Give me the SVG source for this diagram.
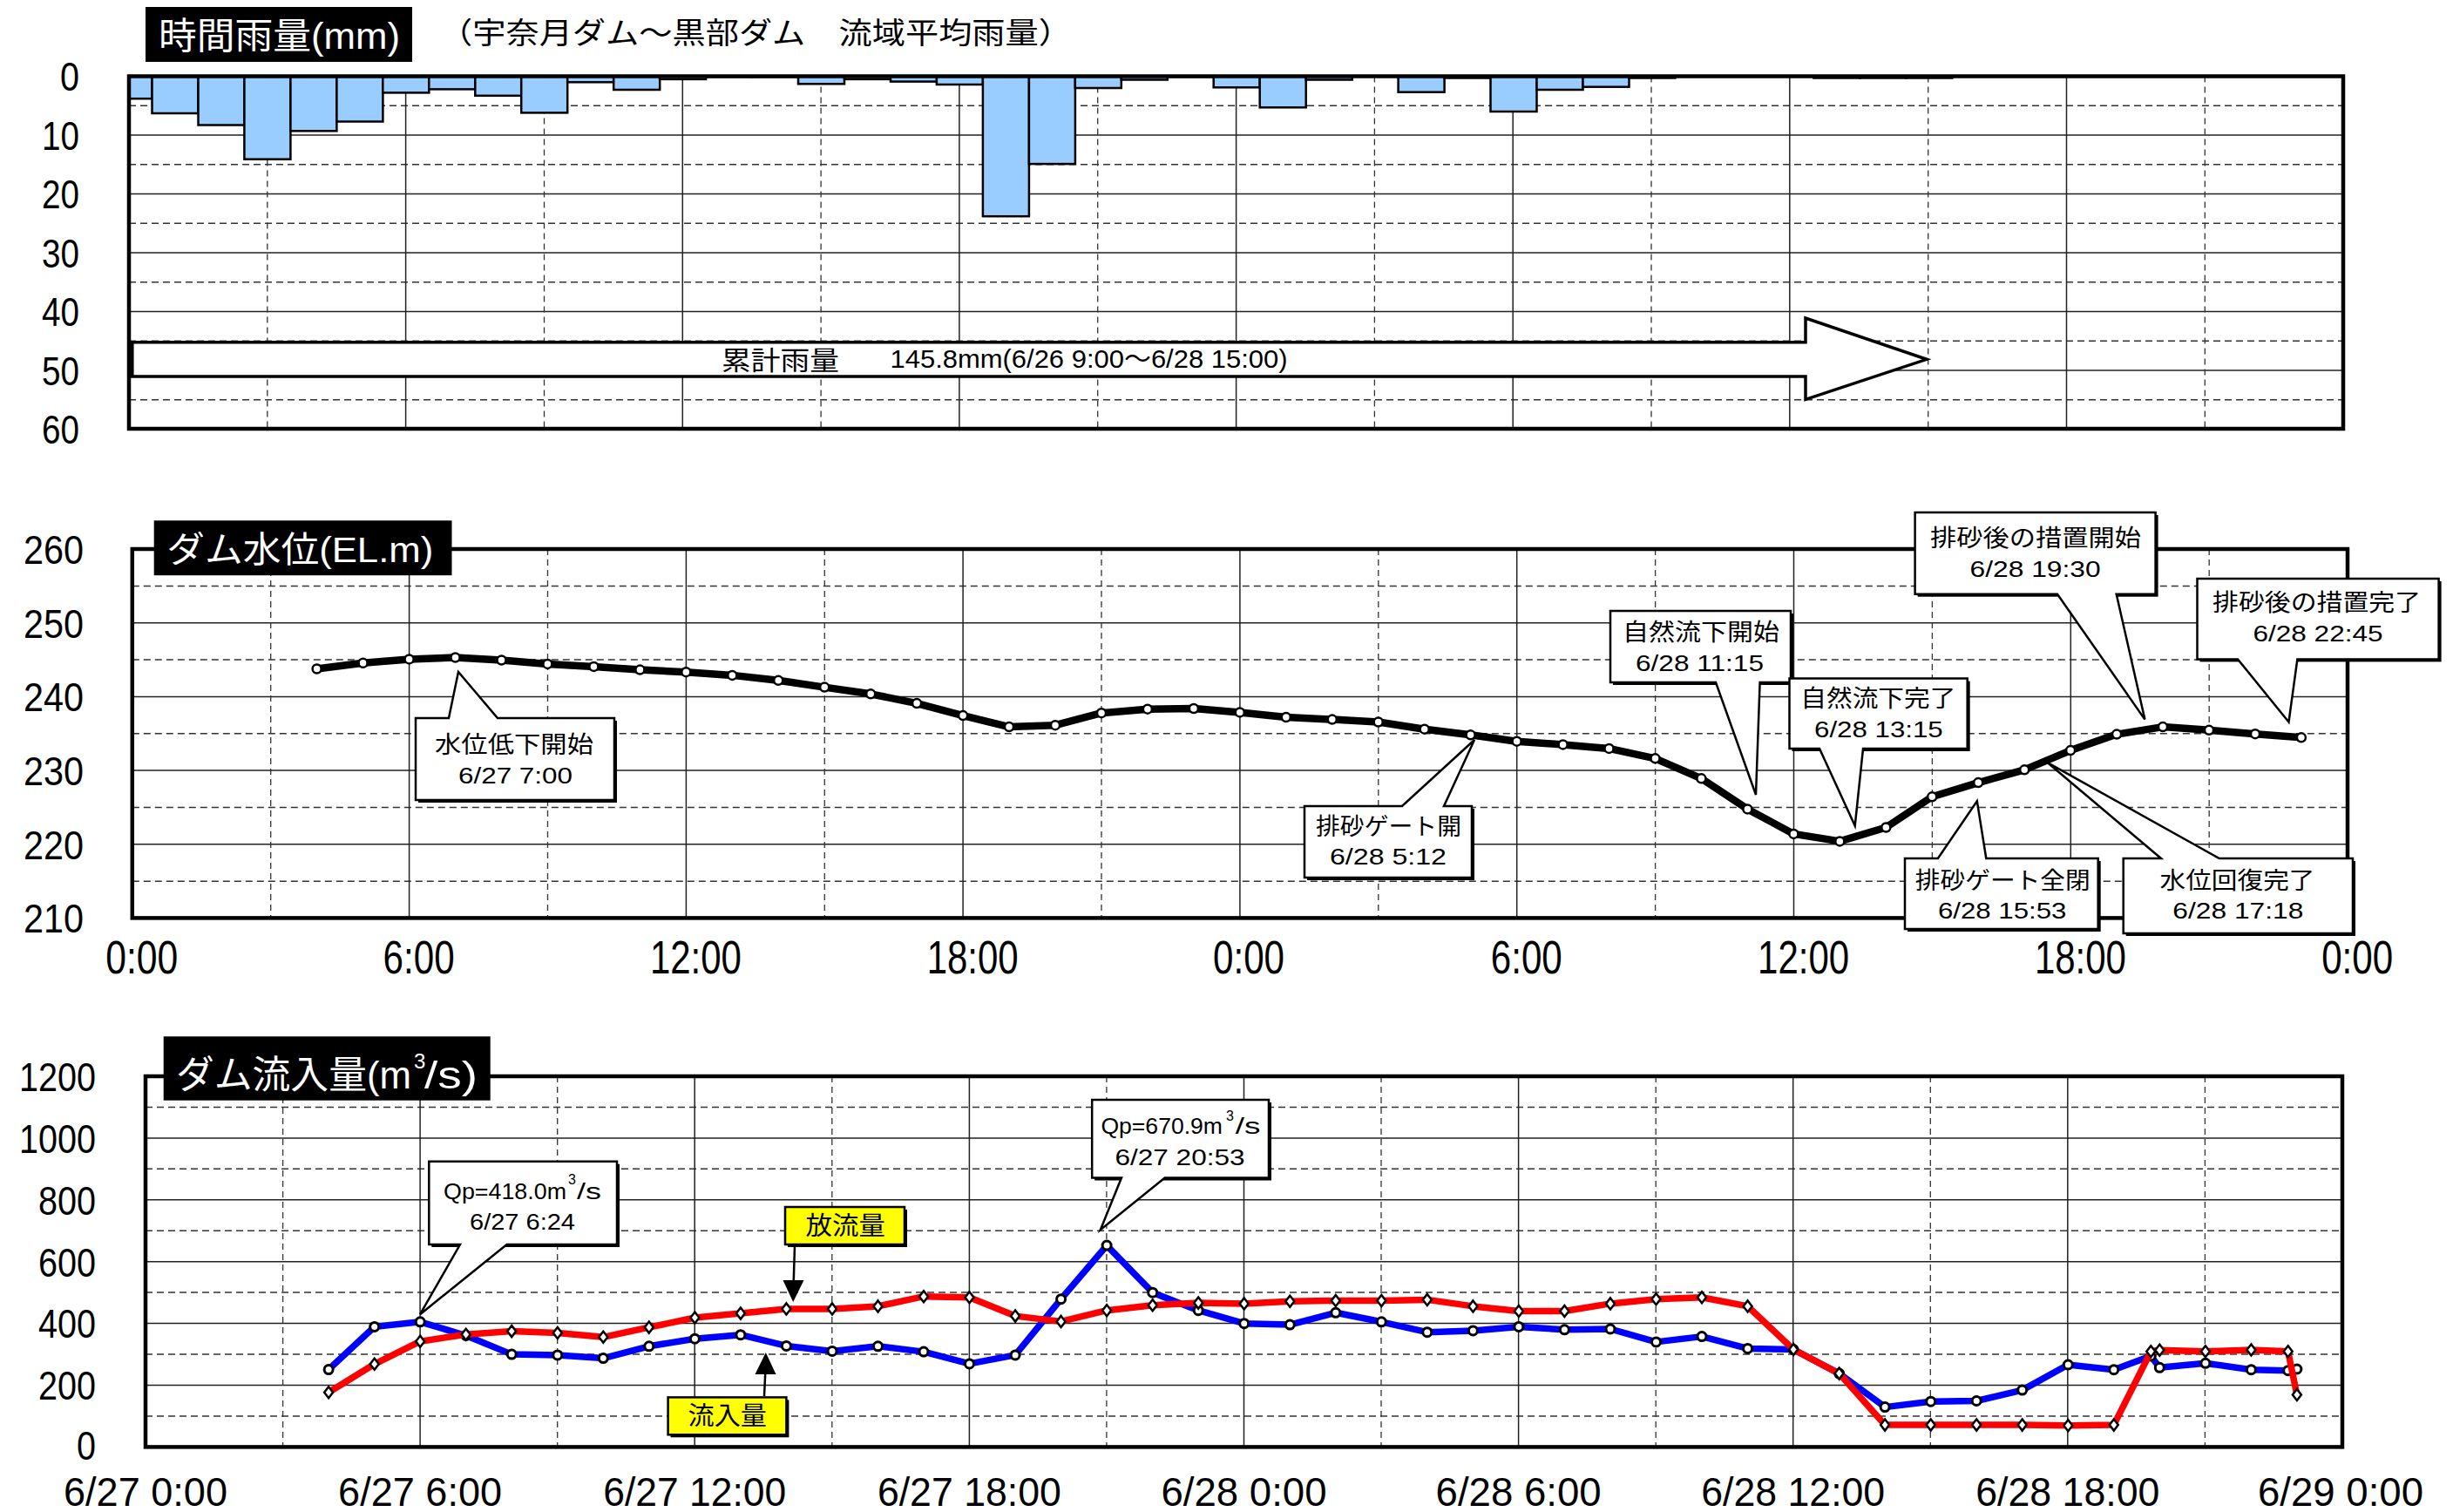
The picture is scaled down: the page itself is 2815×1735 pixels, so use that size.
<svg xmlns="http://www.w3.org/2000/svg" width="2815" height="1735" viewBox="0 0 2815 1735">
<style>
text{font-family:"Liberation Sans","Noto Sans CJK JP",sans-serif;fill:#000}
.num{font-size:47px}
.ax{font-size:54px;text-anchor:middle}
.ax3{font-size:47px;text-anchor:middle}
.wt{fill:#fff}
.c1{font-size:27px;text-anchor:middle}
.c2{font-size:26px;text-anchor:middle}
.gs{stroke:#222;stroke-width:1.5;fill:none}
.gd{stroke:#333;stroke-width:1.5;stroke-dasharray:8 5;fill:none}
.gv{stroke:#333;stroke-width:1.3;stroke-dasharray:7 5;fill:none}
.frame{fill:none;stroke:#000;stroke-width:4.5}
.bar{fill:#99CCFF;stroke:#000;stroke-width:2.5}
.call{fill:#fff;stroke:#000;stroke-width:2.5;stroke-linejoin:miter}
.shadow{fill:#000}
.tbox{fill:#000}
.ybox{fill:#FFFF00;stroke:#000;stroke-width:2.5}
.conn{stroke:#000;stroke-width:2.5;fill:none}
.head{fill:#000}
</style>
<defs>
<marker id="mk" markerUnits="userSpaceOnUse" markerWidth="20" markerHeight="20" refX="10" refY="10" overflow="visible"><circle cx="10" cy="10" r="5" fill="#fff" stroke="#000" stroke-width="2.5"/></marker>
<marker id="mb" markerUnits="userSpaceOnUse" markerWidth="20" markerHeight="20" refX="10" refY="10" overflow="visible"><circle cx="10" cy="10" r="5" fill="#fff" stroke="#000" stroke-width="3"/></marker>
<marker id="mr" markerUnits="userSpaceOnUse" markerWidth="20" markerHeight="20" refX="10" refY="10" overflow="visible"><path d="M10,3.5 L15,10 L10,16.5 L5,10 Z" fill="#fff" stroke="#000" stroke-width="2.5"/></marker>
</defs>
<rect width="2815" height="1735" fill="#fff"/>

<!-- ================= Panel 1: rainfall ================= -->
<g id="rain-panel">
<g id="rain-grid">
<path class="gs" d="M148,155H2689M148,222.5H2689M148,290H2689M148,357.5H2689M148,425H2689"/>
<path class="gd" d="M148,121.3H2689M148,188.8H2689M148,256.3H2689M148,323.8H2689M148,391.3H2689M148,458.8H2689"/>
<path class="gs" d="M465.6,87.5V492M783.3,87.5V492M1100.9,87.5V492M1418.6,87.5V492M1736.2,87.5V492M2053.8,87.5V492M2371.5,87.5V492"/>
<path class="gv" d="M306.8,87.5V492M624.5,87.5V492M942.1,87.5V492M1259.7,87.5V492M1577.4,87.5V492M1895,87.5V492M2212.7,87.5V492M2530.3,87.5V492"/>
</g>
<g id="rain-bars">
<rect class="bar" x="148" y="87.5" width="26.5" height="25.7"/>
<rect class="bar" x="174.5" y="87.5" width="53" height="42.5"/>
<rect class="bar" x="227.5" y="87.5" width="53" height="56"/>
<rect class="bar" x="280.4" y="87.5" width="53" height="95.2"/>
<rect class="bar" x="333.4" y="87.5" width="53" height="62.8"/>
<rect class="bar" x="386.4" y="87.5" width="53" height="52"/>
<rect class="bar" x="439.3" y="87.5" width="53" height="18.9"/>
<rect class="bar" x="492.3" y="87.5" width="53" height="14.9"/>
<rect class="bar" x="545.3" y="87.5" width="53" height="22.3"/>
<rect class="bar" x="598.2" y="87.5" width="53" height="41.9"/>
<rect class="bar" x="651.2" y="87.5" width="53" height="6.8"/>
<rect class="bar" x="704.2" y="87.5" width="53" height="15.5"/>
<rect class="bar" x="757.1" y="87.5" width="53" height="3.4"/>
<rect class="bar" x="810.1" y="87.5" width="53" height="0.7"/>
<rect class="bar" x="863.1" y="87.5" width="53" height="0.7"/>
<rect class="bar" x="916" y="87.5" width="53" height="8.8"/>
<rect class="bar" x="969" y="87.5" width="53" height="3.4"/>
<rect class="bar" x="1022" y="87.5" width="53" height="6.1"/>
<rect class="bar" x="1074.9" y="87.5" width="53" height="9.5"/>
<rect class="bar" x="1127.9" y="87.5" width="53" height="160.7"/>
<rect class="bar" x="1180.9" y="87.5" width="53" height="100.6"/>
<rect class="bar" x="1233.8" y="87.5" width="53" height="13.5"/>
<rect class="bar" x="1286.8" y="87.5" width="53" height="4"/>
<rect class="bar" x="1339.8" y="87.5" width="53" height="0.7"/>
<rect class="bar" x="1392.7" y="87.5" width="53" height="12.8"/>
<rect class="bar" x="1445.7" y="87.5" width="53" height="35.8"/>
<rect class="bar" x="1498.7" y="87.5" width="53" height="4"/>
<rect class="bar" x="1604.6" y="87.5" width="53" height="18.2"/>
<rect class="bar" x="1657.6" y="87.5" width="53" height="2"/>
<rect class="bar" x="1710.5" y="87.5" width="53" height="40.5"/>
<rect class="bar" x="1763.5" y="87.5" width="53" height="15.5"/>
<rect class="bar" x="1816.5" y="87.5" width="53" height="12.2"/>
<rect class="bar" x="1869.4" y="87.5" width="53" height="2"/>
<rect class="bar" x="2081.4" y="87.5" width="53" height="2"/>
<rect class="bar" x="2134.4" y="87.5" width="53" height="2"/>
<rect class="bar" x="2187.3" y="87.5" width="53" height="2"/>
</g>
<rect class="frame" x="148" y="87.5" width="2541" height="404.5"/>
<g id="rain-yaxis" text-anchor="end">
<text class="num" x="91" y="104" textLength="22" lengthAdjust="spacingAndGlyphs">0</text>
<text class="num" x="91" y="171.5" textLength="43" lengthAdjust="spacingAndGlyphs">10</text>
<text class="num" x="91" y="239" textLength="43" lengthAdjust="spacingAndGlyphs">20</text>
<text class="num" x="91" y="306.5" textLength="43" lengthAdjust="spacingAndGlyphs">30</text>
<text class="num" x="91" y="374" textLength="43" lengthAdjust="spacingAndGlyphs">40</text>
<text class="num" x="91" y="441.5" textLength="43" lengthAdjust="spacingAndGlyphs">50</text>
<text class="num" x="91" y="509" textLength="43" lengthAdjust="spacingAndGlyphs">60</text>
</g>
<g id="rain-total">
<polygon points="151.8,392.7 2072,392.7 2072,365 2211,412.3 2072,458.3 2072,432 151.8,432" fill="#fff" stroke="#000" stroke-width="3.5"/>
<text x="828" y="423.5" font-size="30" textLength="135" lengthAdjust="spacingAndGlyphs">累計雨量</text>
<text x="1021.5" y="421.7" font-size="30" textLength="456" lengthAdjust="spacingAndGlyphs">145.8mm(6/26 9:00～6/28 15:00)</text>
</g>
</g>
<g id="rain-title">
<rect class="tbox" x="167" y="8" width="306" height="63"/>
<text class="wt" x="182" y="56" font-size="42" textLength="277" lengthAdjust="spacingAndGlyphs">時間雨量(mm)</text>
</g>
<g id="rain-subtitle">
<text x="504" y="49.7" font-size="34" textLength="726" lengthAdjust="spacingAndGlyphs">（宇奈月ダム～黒部ダム　流域平均雨量）</text>
</g>

<!-- ================= Panel 2: water level ================= -->
<g id="level-panel">
<g id="level-grid">
<path class="gs" d="M151.8,714.7H2694M151.8,799.4H2694M151.8,884.1H2694M151.8,968.8H2694"/>
<path class="gd" d="M151.8,672.4H2694M151.8,757.1H2694M151.8,841.8H2694M151.8,926.5H2694M151.8,1011.2H2694"/>
<path class="gs" d="M469.6,630V1053.4M787.4,630V1053.4M1105.1,630V1053.4M1422.9,630V1053.4M1740.7,630V1053.4M2058.5,630V1053.4M2376.3,630V1053.4"/>
<path class="gv" d="M310.7,630V1053.4M628.5,630V1053.4M946.3,630V1053.4M1264,630V1053.4M1581.8,630V1053.4M1899.6,630V1053.4M2217.4,630V1053.4M2535.2,630V1053.4"/>
</g>
<rect class="frame" x="151.8" y="630" width="2542.2" height="423.4"/>
<g id="level-yaxis" text-anchor="end">
<text class="num" x="96" y="647" textLength="69" lengthAdjust="spacingAndGlyphs">260</text>
<text class="num" x="96" y="731.6" textLength="69" lengthAdjust="spacingAndGlyphs">250</text>
<text class="num" x="96" y="816.3" textLength="69" lengthAdjust="spacingAndGlyphs">240</text>
<text class="num" x="96" y="901" textLength="69" lengthAdjust="spacingAndGlyphs">230</text>
<text class="num" x="96" y="985.7" textLength="69" lengthAdjust="spacingAndGlyphs">220</text>
<text class="num" x="96" y="1070.4" textLength="69" lengthAdjust="spacingAndGlyphs">210</text>
</g>
<g id="level-xaxis">
<text class="ax" x="162.8" y="1117" textLength="83" lengthAdjust="spacingAndGlyphs">0:00</text>
<text class="ax" x="480.6" y="1117" textLength="82" lengthAdjust="spacingAndGlyphs">6:00</text>
<text class="ax" x="798.4" y="1117" textLength="105" lengthAdjust="spacingAndGlyphs">12:00</text>
<text class="ax" x="1116.2" y="1117" textLength="105" lengthAdjust="spacingAndGlyphs">18:00</text>
<text class="ax" x="1433" y="1117" textLength="82" lengthAdjust="spacingAndGlyphs">0:00</text>
<text class="ax" x="1751.8" y="1117" textLength="82" lengthAdjust="spacingAndGlyphs">6:00</text>
<text class="ax" x="2069.6" y="1117" textLength="105" lengthAdjust="spacingAndGlyphs">12:00</text>
<text class="ax" x="2387.4" y="1117" textLength="105" lengthAdjust="spacingAndGlyphs">18:00</text>
<text class="ax" x="2705.2" y="1117" textLength="82" lengthAdjust="spacingAndGlyphs">0:00</text>
</g>
<polyline id="level-line" fill="none" stroke="#000" stroke-width="8.5" stroke-linejoin="round" marker-start="url(#mk)" marker-mid="url(#mk)" marker-end="url(#mk)" points="363.6,767.5 416.6,760.8 469.6,756.4 522.5,754.5 575.5,757.5 628.4,761.9 681.4,764.9 734.4,768.6 787.3,771.2 840.3,774.9 893.2,780.8 946.2,788.6 999.2,796.3 1052.1,807.1 1105.1,821.1 1158,834.1 1211,832.2 1264,818.2 1316.9,813.7 1369.9,813 1422.8,817.4 1475.8,823 1528.8,825.6 1581.7,828.5 1634.7,836.7 1687.6,843.3 1740.6,850.7 1793.6,854.4 1846.5,858.9 1899.5,870.3 1952.4,893.3 2005.4,928.4 2058.4,956.9 2111.3,965.4 2164.3,949.5 2217.2,914.3 2270.2,898.1 2323.2,883.3 2376.1,861.1 2429.1,842.6 2482,834.1 2535,837.8 2588,842.2 2640.9,846.3"/>
</g>

<g id="callout-level-drop">
<rect class="shadow" x="480" y="827" width="228" height="94"/>
<path class="call" d="M477,824 L515,824 L526,771 L571,824 L705,824 L705,918 L477,918 Z"/>
<text class="c1" x="590" y="864" textLength="182" lengthAdjust="spacingAndGlyphs">水位低下開始</text>
<text class="c2" x="591.5" y="899" textLength="131" lengthAdjust="spacingAndGlyphs">6/27  7:00</text>
</g>
<g id="callout-gate-open">
<rect class="shadow" x="1500" y="928" width="192" height="82"/>
<path class="call" d="M1497,925 L1609,925 L1692,849 L1657,925 L1689,925 L1689,1007 L1497,1007 Z"/>
<text class="c1" x="1593.5" y="958" textLength="167" lengthAdjust="spacingAndGlyphs">排砂ゲート開</text>
<text class="c2" x="1593" y="992" textLength="134" lengthAdjust="spacingAndGlyphs">6/28  5:12</text>
</g>
<g id="callout-natural-start">
<rect class="shadow" x="1851" y="704" width="207" height="82"/>
<path class="call" d="M1848,701 L2055,701 L2055,783 L2019.6,783 L2015,912 L1969,783 L1848,783 Z"/>
<text class="c1" x="1952" y="735" textLength="180" lengthAdjust="spacingAndGlyphs">自然流下開始</text>
<text class="c2" x="1950.5" y="770" textLength="147" lengthAdjust="spacingAndGlyphs">6/28  11:15</text>
</g>
<g id="callout-natural-end">
<rect class="shadow" x="2056.5" y="781.6" width="204.2" height="80.4"/>
<path class="call" d="M2053.5,778.6 L2257.7,778.6 L2257.7,859 L2138,859 L2128.7,947.6 L2088,859 L2053.5,859 Z"/>
<text class="c1" x="2155.3" y="810.5" textLength="178" lengthAdjust="spacingAndGlyphs">自然流下完了</text>
<text class="c2" x="2155.9" y="846" textLength="147.7" lengthAdjust="spacingAndGlyphs">6/28  13:15</text>
</g>
<g id="callout-after-start">
<rect class="shadow" x="2200.6" y="591" width="276" height="93.7"/>
<path class="call" d="M2197.6,588 L2473.6,588 L2473.6,681.7 L2428.7,681.7 L2461.4,825.6 L2361,681.7 L2197.6,681.7 Z"/>
<text class="c1" x="2336" y="627" textLength="242" lengthAdjust="spacingAndGlyphs">排砂後の措置開始</text>
<text class="c2" x="2335.6" y="662" textLength="150" lengthAdjust="spacingAndGlyphs">6/28  19:30</text>
</g>
<g id="callout-after-end">
<rect class="shadow" x="2524.5" y="667" width="277.1" height="92.4"/>
<path class="call" d="M2521.5,664 L2798.6,664 L2798.6,756.4 L2636.4,756.4 L2626.5,828.5 L2568,756.4 L2521.5,756.4 Z"/>
<text class="c1" x="2658.6" y="701" textLength="239" lengthAdjust="spacingAndGlyphs">排砂後の措置完了</text>
<text class="c2" x="2660" y="736" textLength="149" lengthAdjust="spacingAndGlyphs">6/28  22:45</text>
</g>
<g id="callout-gate-closed">
<rect class="shadow" x="2189" y="988" width="221.7" height="81"/>
<path class="call" d="M2186,985 L2223.9,985 L2268.8,919.2 L2279.3,985 L2407.7,985 L2407.7,1066 L2186,1066 Z"/>
<text class="c1" x="2298.3" y="1019.5" textLength="201" lengthAdjust="spacingAndGlyphs">排砂ゲート全閉</text>
<text class="c2" x="2297.7" y="1054" textLength="147.6" lengthAdjust="spacingAndGlyphs">6/28  15:53</text>
</g>
<g id="callout-level-recovered">
<rect class="shadow" x="2439.7" y="988" width="263.3" height="86"/>
<path class="call" d="M2436.7,985 L2480,985 L2349.3,874.8 L2546.7,985 L2700,985 L2700,1071 L2436.7,1071 Z"/>
<text class="c1" x="2567.5" y="1020" textLength="178" lengthAdjust="spacingAndGlyphs">水位回復完了</text>
<text class="c2" x="2568.3" y="1054" textLength="150" lengthAdjust="spacingAndGlyphs">6/28  17:18</text>
</g>
<g id="level-title">
<rect class="tbox" x="176.7" y="597.3" width="341.8" height="62.9"/>
<text class="wt" x="191.3" y="645" font-size="41" textLength="306" lengthAdjust="spacingAndGlyphs">ダム水位(EL.m)</text>
</g>

<!-- ================= Panel 3: inflow / outflow ================= -->
<g id="flow-panel">
<g id="flow-grid">
<path class="gs" d="M167,1305.9H2688M167,1376.8H2688M167,1447.7H2688M167,1518.6H2688M167,1589.5H2688"/>
<path class="gd" d="M167,1270.4H2688M167,1341.3H2688M167,1412.2H2688M167,1483.1H2688M167,1554H2688M167,1624.9H2688"/>
<path class="gs" d="M482.1,1235V1660.4M797.2,1235V1660.4M1112.4,1235V1660.4M1427.5,1235V1660.4M1742.6,1235V1660.4M2057.7,1235V1660.4M2372.8,1235V1660.4"/>
<path class="gv" d="M324.6,1235V1660.4M639.7,1235V1660.4M954.8,1235V1660.4M1269.9,1235V1660.4M1585,1235V1660.4M1900.2,1235V1660.4M2215.3,1235V1660.4M2530.4,1235V1660.4"/>
</g>
<rect class="frame" x="167" y="1235" width="2521" height="425.4"/>
<g id="flow-yaxis" text-anchor="end">
<text class="num" x="110" y="1251.8" textLength="88" lengthAdjust="spacingAndGlyphs">1200</text>
<text class="num" x="110" y="1322.7" textLength="88" lengthAdjust="spacingAndGlyphs">1000</text>
<text class="num" x="110" y="1393.6" textLength="66" lengthAdjust="spacingAndGlyphs">800</text>
<text class="num" x="110" y="1464.5" textLength="66" lengthAdjust="spacingAndGlyphs">600</text>
<text class="num" x="110" y="1535.4" textLength="66" lengthAdjust="spacingAndGlyphs">400</text>
<text class="num" x="110" y="1606.3" textLength="66" lengthAdjust="spacingAndGlyphs">200</text>
<text class="num" x="110" y="1675" textLength="22" lengthAdjust="spacingAndGlyphs">0</text>
</g>
<g id="flow-xaxis">
<text class="ax3" x="167" y="1728" textLength="188" lengthAdjust="spacingAndGlyphs">6/27 0:00</text>
<text class="ax3" x="482.1" y="1728" textLength="188" lengthAdjust="spacingAndGlyphs">6/27 6:00</text>
<text class="ax3" x="797.2" y="1728" textLength="210" lengthAdjust="spacingAndGlyphs">6/27 12:00</text>
<text class="ax3" x="1112.4" y="1728" textLength="211" lengthAdjust="spacingAndGlyphs">6/27 18:00</text>
<text class="ax3" x="1427.5" y="1728" textLength="190" lengthAdjust="spacingAndGlyphs">6/28 0:00</text>
<text class="ax3" x="1742.6" y="1728" textLength="190" lengthAdjust="spacingAndGlyphs">6/28 6:00</text>
<text class="ax3" x="2057.7" y="1728" textLength="211" lengthAdjust="spacingAndGlyphs">6/28 12:00</text>
<text class="ax3" x="2372.8" y="1728" textLength="211" lengthAdjust="spacingAndGlyphs">6/28 18:00</text>
<text class="ax3" x="2686" y="1728" textLength="190" lengthAdjust="spacingAndGlyphs">6/29 0:00</text>
</g>
<polyline id="inflow-line" fill="none" stroke="#0000FF" stroke-width="7.5" stroke-linejoin="round" marker-start="url(#mb)" marker-mid="url(#mb)" marker-end="url(#mb)" points="377.1,1571.6 429.7,1522.4 482.2,1516.8 534.7,1532.5 587.2,1554.1 639.8,1554.9 692.3,1558.6 744.8,1544.8 797.4,1536.2 849.9,1531.7 902.4,1544.4 955,1550.4 1007.5,1544.8 1060,1551.1 1112.5,1564.9 1165.1,1554.9 1217.6,1490.7 1270.1,1429.1 1322.7,1483.2 1375.2,1503.7 1427.7,1518.7 1480.3,1520.1 1532.8,1506.3 1585.3,1516.8 1637.8,1528.7 1690.4,1526.9 1742.9,1522.4 1795.4,1525.8 1848,1525 1900.5,1539.9 1953,1533.6 2005.6,1547.4 2058.1,1548.5 2110.6,1576.1 2163.1,1614.6 2215.7,1608.2 2268.2,1607.5 2320.7,1595.1 2373.3,1566 2425.8,1571.7 2468.3,1556 2478.3,1569.3 2530.9,1564.3 2583.4,1571.7 2625.7,1572.7 2635.9,1571"/>
<polyline id="outflow-line" fill="none" stroke="#FF0000" stroke-width="7.5" stroke-linejoin="round" marker-start="url(#mr)" marker-mid="url(#mr)" marker-end="url(#mr)" points="377.1,1597.8 429.7,1565.3 482.2,1539.2 534.7,1531.3 587.2,1527.6 639.8,1529.5 692.3,1534.3 744.8,1523.1 797.4,1512 849.9,1507.1 902.4,1501.9 955,1501.9 1007.5,1498.9 1060,1487.7 1112.5,1488.8 1165.1,1510.1 1217.6,1516.4 1270.1,1503.7 1322.7,1497.8 1375.2,1495.1 1427.7,1495.9 1480.3,1493.3 1532.8,1492.5 1585.3,1492.5 1637.8,1491.4 1690.4,1498.9 1742.9,1504.5 1795.4,1504.5 1848,1495.9 1900.5,1490.7 1953,1488.8 2005.6,1498.9 2058.1,1548.5 2110.6,1576.1 2163.1,1635.1 2215.7,1635.1 2268.2,1635.1 2320.7,1635.1 2373.3,1635.8 2425.8,1635.1 2468.3,1550.7 2478.3,1549.3 2530.9,1550.7 2583.4,1549 2625.7,1550.7 2635.9,1600.4"/>
</g>

<g id="connectors">
<line class="conn" x1="912" y1="1429" x2="910.7" y2="1472"/>
<polygon class="head" points="898.5,1469 922.5,1469 910.2,1494"/>
<line class="conn" x1="877" y1="1602" x2="878.3" y2="1574"/>
<polygon class="head" points="866.5,1577 890.5,1577 878.8,1552"/>
</g>

<g id="callout-qp1">
<rect class="shadow" x="495.3" y="1335.8" width="215.7" height="95.2"/>
<path class="call" d="M492.3,1332.8 L708,1332.8 L708,1428 L581.6,1428 L482.1,1508.2 L528,1428 L492.3,1428 Z"/>
<text x="509" y="1375.7" font-size="26" textLength="141" lengthAdjust="spacingAndGlyphs">Qp=418.0m</text>
<text x="652" y="1359" font-size="16">3</text>
<text x="662" y="1375.7" font-size="26" textLength="28" lengthAdjust="spacingAndGlyphs">/s</text>
<text class="c2" x="599.5" y="1411" textLength="121" lengthAdjust="spacingAndGlyphs">6/27 6:24</text>
</g>
<g id="callout-qp2">
<rect class="shadow" x="1256.2" y="1265" width="202.8" height="89.5"/>
<path class="call" d="M1253.2,1262 L1456,1262 L1456,1351.5 L1336.7,1351.5 L1262.8,1411.2 L1287,1351.5 L1253.2,1351.5 Z"/>
<text x="1263.4" y="1301" font-size="26" textLength="139.6" lengthAdjust="spacingAndGlyphs">Qp=670.9m</text>
<text x="1407" y="1286" font-size="16">3</text>
<text x="1417.7" y="1301" font-size="26" textLength="28.7" lengthAdjust="spacingAndGlyphs">/s</text>
<text class="c2" x="1354" y="1336.6" textLength="149" lengthAdjust="spacingAndGlyphs">6/27  20:53</text>
</g>
<g id="label-outflow">
<rect class="shadow" x="904" y="1388" width="137" height="43"/>
<rect class="ybox" x="901" y="1385" width="137" height="43"/>
<text x="924.6" y="1417" font-size="29" textLength="91.4" lengthAdjust="spacingAndGlyphs">放流量</text>
</g>
<g id="label-inflow">
<rect class="shadow" x="769.6" y="1606.4" width="135.8" height="42.9"/>
<rect class="ybox" x="766.6" y="1603.4" width="135.8" height="42.9"/>
<text x="789.5" y="1635" font-size="29" textLength="90.5" lengthAdjust="spacingAndGlyphs">流入量</text>
</g>
<g id="flow-title">
<rect class="tbox" x="187.7" y="1189.3" width="375" height="73.4"/>
<text class="wt" x="202" y="1249" font-size="44" textLength="270" lengthAdjust="spacingAndGlyphs">ダム流入量(m</text>
<text class="wt" x="475" y="1226" font-size="24">3</text>
<text class="wt" x="487" y="1249" font-size="44" textLength="61" lengthAdjust="spacingAndGlyphs">/s)</text>
</g>
</svg>
